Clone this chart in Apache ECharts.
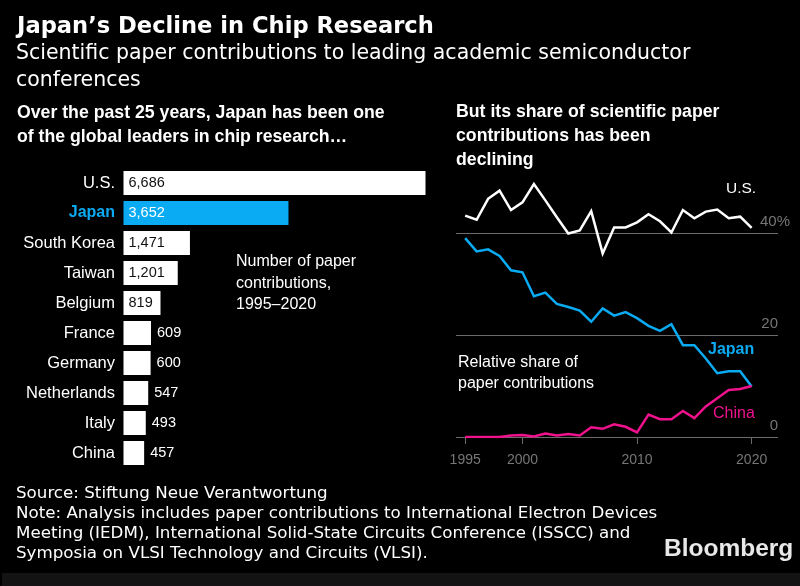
<!DOCTYPE html>
<html>
<head>
<meta charset="utf-8">
<style>
  html, body { margin: 0; padding: 0; background: #000; }
  #chart { width: 800px; height: 586px; }
</style>
<script src="https://cdn.jsdelivr.net/npm/echarts@6/dist/echarts.min.js"></script>
</head>
<body>
<div id="chart"></div>
<script>
var countries = ['U.S.', 'Japan', 'South Korea', 'Taiwan', 'Belgium', 'France', 'Germany', 'Netherlands', 'Italy', 'China'];
var paperCounts = [6686, 3652, 1471, 1201, 819, 609, 600, 547, 493, 457];

var years = [1995, 1996, 1997, 1998, 1999, 2000, 2001, 2002, 2003, 2004, 2005, 2006, 2007, 2008, 2009, 2010, 2011, 2012, 2013, 2014, 2015, 2016, 2017, 2018, 2019, 2020];
var usShare = [43.4, 42.6, 46.7, 48.3, 44.5, 46.0, 49.6, 46.4, 43.1, 39.9, 40.5, 44.3, 36.0, 41.1, 41.1, 42.1, 43.7, 42.3, 40.1, 44.5, 42.9, 44.2, 44.6, 42.9, 43.2, 41.0];
var japanShare = [39.0, 36.4, 36.8, 35.5, 32.7, 32.3, 27.6, 28.3, 26.1, 25.5, 24.8, 22.6, 25.2, 23.8, 24.5, 23.3, 21.8, 20.8, 22.1, 18.0, 18.0, 15.4, 12.5, 12.9, 12.9, 9.9];
var chinaShare = [0, 0, 0, 0, 0.3, 0.4, 0.1, 0.7, 0.3, 0.6, 0.3, 1.9, 1.6, 2.5, 2.0, 0.9, 4.4, 3.5, 3.5, 5.1, 3.7, 6.0, 7.6, 9.2, 9.4, 10.0];
var yearTicks = [1995, 2000, 2010, 2020];
var shareTicks = [0, 20, 40];

var WHITE = '#fff';
var BLUE = '#0aabf2';
var PINK = '#f0128c';
var GREY = '#767676';
var RULE = '#6b6b6b';
var GROTESK = '"Liberation Sans", Arial, sans-serif';
var DEJAVU = '"DejaVu Sans", sans-serif';

function text(x, y, str, font, size, color, weight) {
  return {
    type: 'text',
    x: x,
    y: y,
    style: {
      text: str,
      fill: color || WHITE,
      font: (weight || 'normal') + ' ' + size + 'px ' + font,
      textVerticalAlign: 'middle'
    }
  };
}

var chart = echarts.init(document.getElementById('chart'), null, { renderer: 'canvas' });

var barData = paperCounts.map(function (v, i) {
  var inside = v >= 800;
  return {
    value: v,
    itemStyle: { color: countries[i] === 'Japan' ? BLUE : WHITE },
    label: {
      show: true,
      position: inside ? 'insideLeft' : 'right',
      distance: inside ? 5 : 6,
      color: inside && countries[i] !== 'Japan' ? '#111' : WHITE,
      fontFamily: GROTESK,
      fontSize: 14.5,
      formatter: function (p) { return p.value.toLocaleString('en-US'); }
    }
  };
});

function pairs(values) {
  return values.map(function (v, i) { return [years[i], v]; });
}

function lineSeries(values, color) {
  return {
    type: 'line',
    xAxisIndex: 1,
    yAxisIndex: 1,
    data: pairs(values),
    symbol: 'none',
    animation: false,
    lineStyle: { color: color, width: 2.5, join: 'miter' }
  };
}

chart.setOption({
  backgroundColor: '#000',
  animation: false,
  grid: [
    { left: 123.5, top: 168, width: 302, height: 300 },
    { left: 456, top: 182, width: 322, height: 255 }
  ],
  xAxis: [
    { type: 'value', gridIndex: 0, min: 0, max: 6686, show: false },
    {
      type: 'value',
      gridIndex: 1,
      min: 1994.2,
      max: 2022.3,
      splitLine: { show: false },
      axisLine: { show: false },
      axisTick: { show: true, customValues: yearTicks, length: 7, lineStyle: { color: RULE, width: 1 } },
      axisLabel: {
        customValues: yearTicks,
        color: GREY,
        fontFamily: GROTESK,
        fontSize: 14,
        margin: 16,
        formatter: function (v) { return String(v); }
      }
    }
  ],
  yAxis: [
    {
      type: 'category',
      gridIndex: 0,
      data: countries,
      inverse: true,
      axisLine: { show: false },
      axisTick: { show: false },
      axisLabel: {
        color: WHITE,
        fontFamily: GROTESK,
        fontSize: 16.5,
        margin: 8.5,
        formatter: function (v) { return v === 'Japan' ? '{hi|' + v + '}' : v; },
        rich: { hi: { color: BLUE, fontWeight: 'bold', fontFamily: GROTESK, fontSize: 16 } }
      }
    },
    {
      type: 'value',
      gridIndex: 1,
      position: 'right',
      min: 0,
      max: 50,
      interval: 20,
      splitLine: { show: true, showMaxLine: false, lineStyle: { color: RULE, width: 1 } },
      axisLine: { show: false },
      axisTick: { show: false },
      axisLabel: {
        inside: true,
        align: 'right',
        verticalAlign: 'bottom',
        margin: -12,
        padding: [0, 0, 4, 0],
        color: GREY,
        fontFamily: GROTESK,
        fontSize: 15,
        formatter: function (v) {
          if (v === shareTicks[2]) return v + '%';
          return shareTicks.indexOf(v) >= 0 ? '{p|' + v + '}' : '';
        },
        rich: { p: { color: GREY, fontFamily: GROTESK, fontSize: 15, padding: [0, 12, 0, 0] } }
      }
    }
  ],
  series: [
    { type: 'bar', xAxisIndex: 0, yAxisIndex: 0, barWidth: 24, data: barData, silent: true },
    lineSeries(usShare, WHITE),
    lineSeries(japanShare, BLUE),
    lineSeries(chinaShare, PINK)
  ],
  graphic: [
    // 底部那条深色带
    { type: 'rect', shape: { x: 2, y: 573, width: 798, height: 13 }, style: { fill: '#131313' } },
    text(17, 27, 'Japan\u2019s Decline in Chip Research', DEJAVU, 22.6, WHITE, 'bold'),
    text(16, 54, 'Scientific paper contributions to leading academic semiconductor', DEJAVU, 20.5),
    text(16, 81, 'conferences', DEJAVU, 20.5),
    text(17, 113, 'Over the past 25 years, Japan has been one', GROTESK, 17.7, WHITE, 'bold'),
    text(17, 137, 'of the global leaders in chip research\u2026', GROTESK, 17.7, WHITE, 'bold'),
    text(456, 112, 'But its share of scientific paper', GROTESK, 17.7, WHITE, 'bold'),
    text(456, 136.5, 'contributions has been', GROTESK, 17.7, WHITE, 'bold'),
    text(456, 160.5, 'declining', GROTESK, 17.7, WHITE, 'bold'),
    text(236, 262, 'Number of paper', GROTESK, 16),
    text(236, 284, 'contributions,', GROTESK, 16),
    text(236, 305, '1995\u20132020', GROTESK, 16),
    text(726, 189, 'U.S.', GROTESK, 15.5),
    text(708, 350, 'Japan', GROTESK, 16, BLUE, 'bold'),
    text(713, 414, 'China', GROTESK, 16, PINK),
    text(458, 362.5, 'Relative share of', GROTESK, 16),
    text(458, 383.5, 'paper contributions', GROTESK, 16),
    text(16, 494, 'Source: Stiftung Neue Verantwortung', DEJAVU, 16.7),
    text(16, 514, 'Note: Analysis includes paper contributions to International Electron Devices', DEJAVU, 16.7),
    text(16, 534, 'Meeting (IEDM), International Solid-State Circuits Conference (ISSCC) and', DEJAVU, 16.7),
    text(16, 554, 'Symposia on VLSI Technology and Circuits (VLSI).', DEJAVU, 16.7),
    text(664, 549, 'Bloomberg', GROTESK, 24.5, '#e8e8e8', 'bold')
  ]
});
</script>
</body>
</html>
